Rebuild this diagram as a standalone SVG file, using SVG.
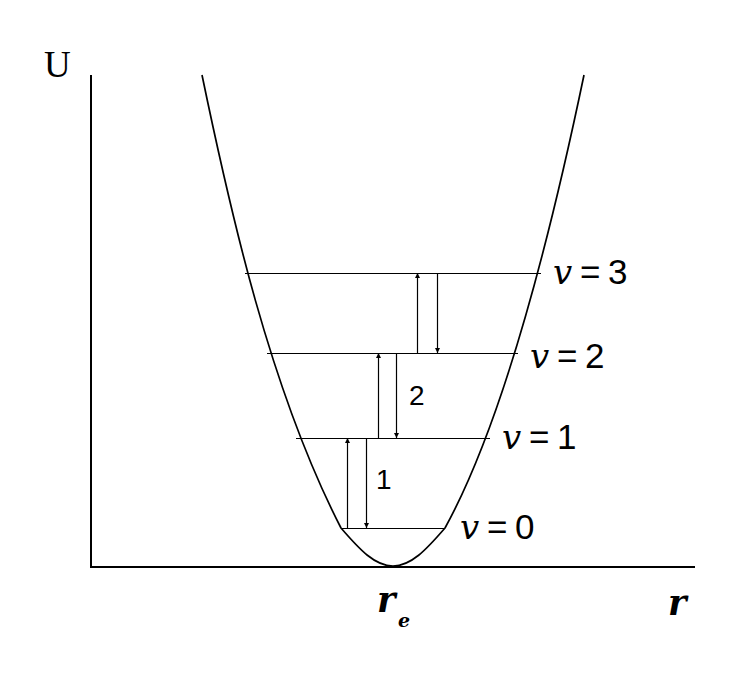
<svg xmlns="http://www.w3.org/2000/svg" width="739" height="676" viewBox="0 0 739 676">
<defs>
<marker id="ah" viewBox="0 0 10 10" refX="10" refY="5" markerWidth="5" markerHeight="9" orient="auto" markerUnits="userSpaceOnUse"><path d="M0,0 L10,5 L0,10 z" fill="#000"/></marker>
</defs>
<style>
.ax{stroke:#000;stroke-width:2;fill:none}
.lv{stroke:#000;stroke-width:1.2;fill:none}
.ar{stroke:#000;stroke-width:1.2;fill:none;marker-end:url(#ah)}
.v{font-family:"DejaVu Serif",serif;font-style:italic;font-size:34px}
.eq{font-family:"Liberation Sans",sans-serif;font-size:35px}
.n{font-family:"Liberation Sans",sans-serif;font-size:28px}
.rb{font-family:"DejaVu Serif",serif;font-style:italic;font-weight:bold}
</style>
<rect width="739" height="676" fill="#fff"/>
<g id="axes">
<path class="ax" d="M91,75 V567 H695"/>
<text x="44" y="77" style="font-family:'Liberation Serif',serif;font-size:37px">U</text>
<text class="rb" x="377" y="612" font-size="35">r</text>
<text class="rb" x="398" y="627" font-size="19">e</text>
<text class="rb" x="668" y="615" font-size="35">r</text>
</g>
<g id="curve">
<path d="M202,75 C230,210 270,390 341,528 C360,550 375,566 393,566 C411,566 426,550 445,528 C510,410 560,190 584,75" fill="none" stroke="#000" stroke-width="1.7"/>
</g>
<g id="level3"><path class="lv" d="M245,273.5 H541"/><text class="v" x="553" y="284">v</text><text class="eq" x="580" y="284">=</text><text class="eq" x="608" y="284">3</text></g>
<g id="level2"><path class="lv" d="M267,353.5 H518"/><text class="v" x="530" y="368">v</text><text class="eq" x="557" y="368">=</text><text class="eq" x="585" y="368">2</text></g>
<g id="level1"><path class="lv" d="M296,438.5 H490"/><text class="v" x="502" y="449">v</text><text class="eq" x="529" y="449">=</text><text class="eq" x="557" y="449">1</text></g>
<g id="level0"><path class="lv" d="M341,528.5 H445"/><text class="v" x="460" y="539">v</text><text class="eq" x="487" y="539">=</text><text class="eq" x="515" y="539">0</text></g>
<g id="connectors">
<path class="ar" d="M417.5,353 V273"/>
<path class="ar" d="M437.5,273 V353"/>
<path class="ar" d="M378.5,438 V353"/>
<path class="ar" d="M396.5,353 V438"/>
<path class="ar" d="M347.5,528 V438"/>
<path class="ar" d="M366.5,438 V528"/>
</g>
<text class="n" x="409" y="405">2</text>
<text class="n" x="376" y="489">1</text>
</svg>
